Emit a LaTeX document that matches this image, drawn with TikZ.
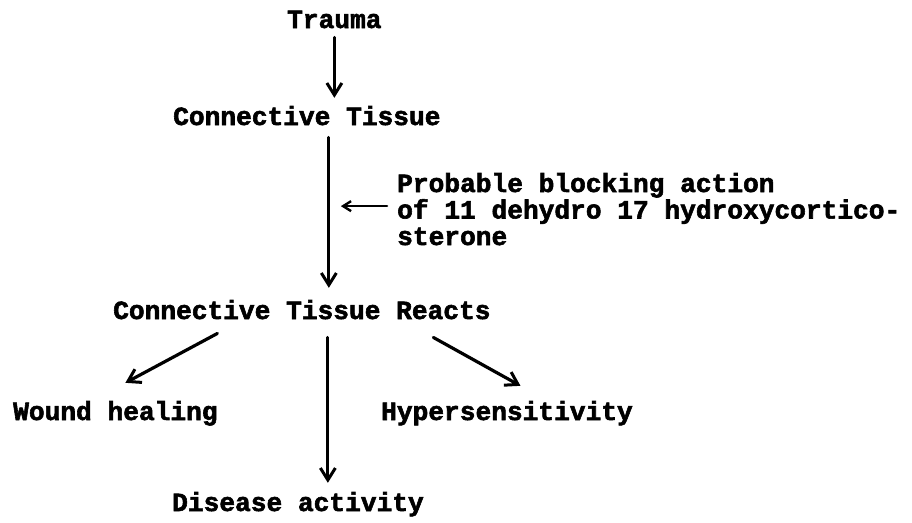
\documentclass[tikz,border=0pt]{standalone}
\usepackage{fontspec}
\newfontfamily\typewriter{Liberation Mono}[BoldFeatures={FakeBold=2.2}]
\usetikzlibrary{arrows.meta}
\begin{document}
\begin{tikzpicture}[x=1pt,y=-1pt,
  lbl/.style={inner sep=0pt,anchor=base west,
    font=\typewriter\bfseries\fontsize{26.2}{26.5}\selectfont},
  arr/.style={line width=3.2pt,line cap=round,
    -{Straight Barb[length=12pt,width=15pt,line width=3pt]}},
  smallarr/.style={line width=2.6pt,line cap=round,
    -{Straight Barb[length=8pt,width=10pt,line width=2.4pt]}}]
\useasboundingbox (0,0) rectangle (912,522);

% stages of the reaction
\node[lbl] (trauma) at (287,28) {Trauma};
\node[lbl] (ct) at (173,125) {Connective Tissue};
\node[lbl,align=left] (block) at (397,245)
  {Probable blocking action\\of 11 dehydro 17 hydroxycortico-\\sterone};
\node[lbl] (ctr) at (113,319) {Connective Tissue Reacts};
\node[lbl] (wound) at (13,420) {Wound healing};
\node[lbl] (hyp) at (381,420) {Hypersensitivity};
\node[lbl] (dis) at (172,511) {Disease activity};

% main chain
\coordinate (chain) at ([xshift=22]ct.south);
\draw[arr,shorten <=9pt,shorten >=8pt]
  (trauma.south) -- (trauma.south |- ct.north);
\draw[arr,shorten <=12pt,shorten >=12pt]
  (chain) -- (chain |- ctr.north);

% blocking action acting on the chain
\draw[smallarr,shorten <=10pt,shorten >=12pt]
  ([yshift=3]block.west) -- ([yshift=3]block.west -| chain);

% outcomes
\draw[arr] ([shift={(-84.5,14)}]ctr.south) -- ([shift={(10,-18)}]wound.north);
\draw[arr,shorten <=18pt,shorten >=9pt]
  ([xshift=26]ctr.south) -- ([xshift=26]ctr.south |- dis.north);
\draw[arr] ([shift={(131.5,18)}]ctr.south) -- ([shift={(13.5,-15)}]hyp.north);
\end{tikzpicture}
\end{document}
